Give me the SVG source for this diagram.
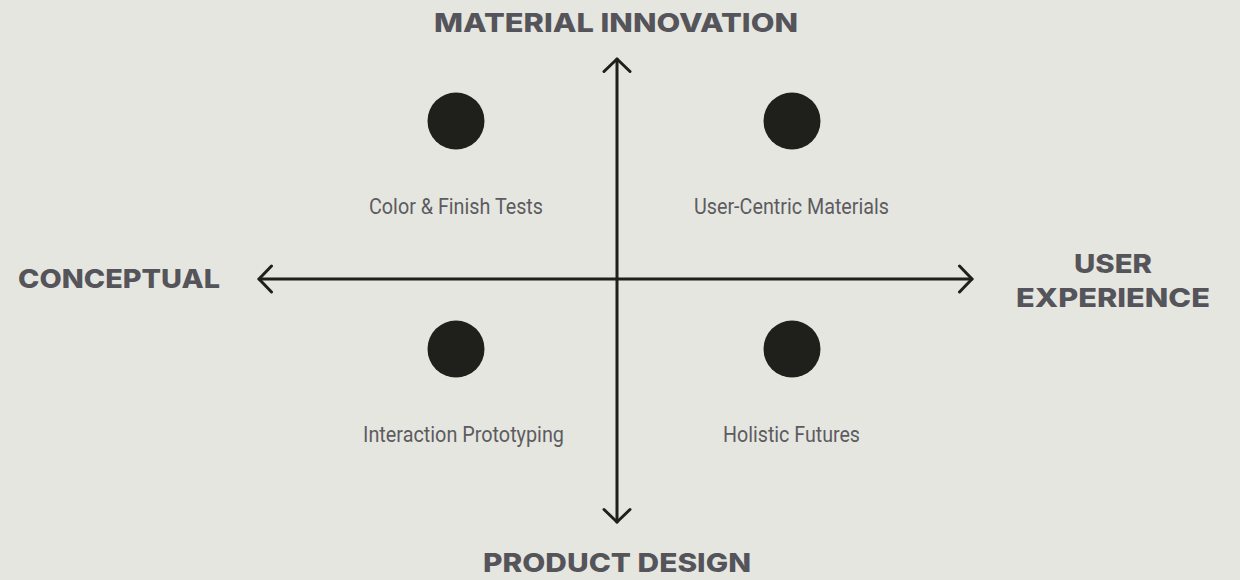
<svg xmlns="http://www.w3.org/2000/svg" width="1240" height="580" viewBox="0 0 1240 580">
  <style>
    .axis { stroke: #1f1f1b; stroke-width: 3; fill: none; stroke-linecap: round; stroke-linejoin: round; }
    .dot { fill: #1f1f1b; }
    .label { font-family: Roboto, "Liberation Sans", sans-serif; font-size: 22px; fill: #5c5c60; text-anchor: middle; }
    .pole { font-family: Inter, "Liberation Sans", sans-serif; font-weight: 800; font-size: 26px; fill: #54545a; text-anchor: middle; }
  </style>
  <defs>
    <!-- open chevron arrowhead shared by both axes -->
    <marker id="chev" viewBox="0 0 30 30" refX="15.5" refY="15" markerWidth="30" markerHeight="30" markerUnits="userSpaceOnUse" orient="auto-start-reverse">
      <path d="M3,2 L15.5,15 L3,28" fill="none" stroke="#1f1f1b" stroke-width="3" stroke-linecap="round" stroke-linejoin="round"/>
    </marker>
  </defs>
  <rect width="1240" height="580" fill="#e6e6e0"/>

  <g id="connectors">
    <line class="axis" x1="617" y1="522" x2="617" y2="59" marker-start="url(#chev)" marker-end="url(#chev)"/>
    <line class="axis" x1="259" y1="279" x2="972" y2="279" marker-start="url(#chev)" marker-end="url(#chev)"/>
  </g>

  <g id="pole-top"><text class="pole" x="616" y="32" textLength="364" lengthAdjust="spacingAndGlyphs">MATERIAL INNOVATION</text></g>
  <g id="pole-bottom"><text class="pole" x="617" y="572" textLength="268" lengthAdjust="spacingAndGlyphs">PRODUCT DESIGN</text></g>
  <g id="pole-left"><text class="pole" x="119" y="288" textLength="202" lengthAdjust="spacingAndGlyphs">CONCEPTUAL</text></g>
  <g id="pole-right">
    <text class="pole" x="1113" y="273" textLength="78" lengthAdjust="spacingAndGlyphs">USER</text>
    <text class="pole" x="1113" y="307" textLength="194" lengthAdjust="spacingAndGlyphs">EXPERIENCE</text>
  </g>

  <g id="node-color-finish">
    <circle class="dot" cx="456" cy="121" r="28.5"/>
    <text class="label" x="456" y="214" textLength="174" lengthAdjust="spacingAndGlyphs">Color &amp; Finish Tests</text>
  </g>
  <g id="node-user-centric">
    <circle class="dot" cx="792" cy="121" r="28.5"/>
    <text class="label" x="791.5" y="214" textLength="195" lengthAdjust="spacingAndGlyphs">User-Centric Materials</text>
  </g>
  <g id="node-interaction">
    <circle class="dot" cx="456" cy="349" r="28.5"/>
    <text class="label" x="463.5" y="442" textLength="201" lengthAdjust="spacingAndGlyphs">Interaction Prototyping</text>
  </g>
  <g id="node-holistic">
    <circle class="dot" cx="792" cy="349" r="28.5"/>
    <text class="label" x="791.5" y="442" textLength="137" lengthAdjust="spacingAndGlyphs">Holistic Futures</text>
  </g>
</svg>
